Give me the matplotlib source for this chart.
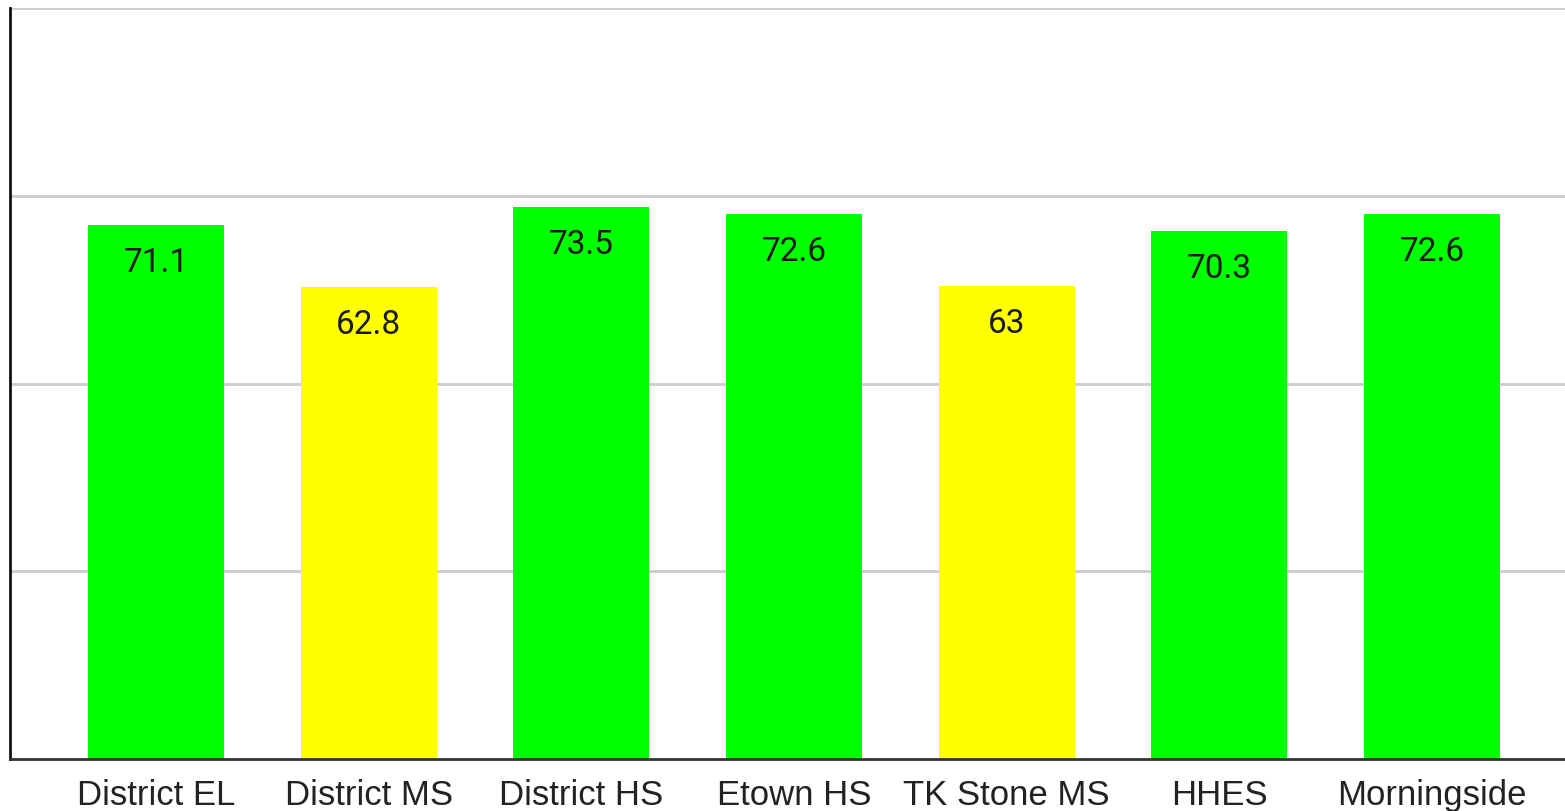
import matplotlib
matplotlib.use("Agg")
import matplotlib.pyplot as plt

categories = ["District EL", "District MS", "District HS", "Etown HS", "TK Stone MS", "HHES", "Morningside"]
values = [71.1, 62.8, 73.5, 72.6, 63, 70.3, 72.6]
value_labels = ["71.1", "62.8", "73.5", "72.6", "63", "70.3", "72.6"]
colors = ["#00FF00", "#FFFF00", "#00FF00", "#00FF00", "#FFFF00", "#00FF00", "#00FF00"]

fig = plt.figure(figsize=(15.65, 8.12), dpi=100)
ax = fig.add_axes([10 / 1565, 52 / 812, 1 - 10 / 1565, (760 - 9) / 812])

x = list(range(len(categories)))
ax.bar(x, values, width=0.64, color=colors, zorder=3)

ax.set_ylim(0, 100)
ax.set_xlim(-0.686, 6.625)
ax.set_yticks([25, 50, 75, 100])
ax.yaxis.grid(True, color="#cccccc", linewidth=2, zorder=0)
ax.tick_params(axis="y", length=0, labelleft=False)
ax.set_xticks(x)
ax.set_xticklabels(categories, fontsize=25, family=["Liberation Sans", "DejaVu Sans"], color="#222222")
ax.tick_params(axis="x", length=0, pad=14)

for s in ["top", "right"]:
    ax.spines[s].set_visible(False)
ax.spines["left"].set_color("#111111")
ax.spines["left"].set_linewidth(2)
ax.spines["bottom"].set_color("#333333")
ax.spines["bottom"].set_linewidth(2)
ax.spines["bottom"].set_zorder(4)

for xi, v, lab in zip(x, values, value_labels):
    ax.annotate(lab, (xi, v), xytext=(0, -33), textcoords="offset points",
                ha="center", va="baseline", fontsize=24,
                family=["Roboto", "DejaVu Sans"], color="#1a1a1a", zorder=5)

fig.savefig("out.png", dpi=100)
